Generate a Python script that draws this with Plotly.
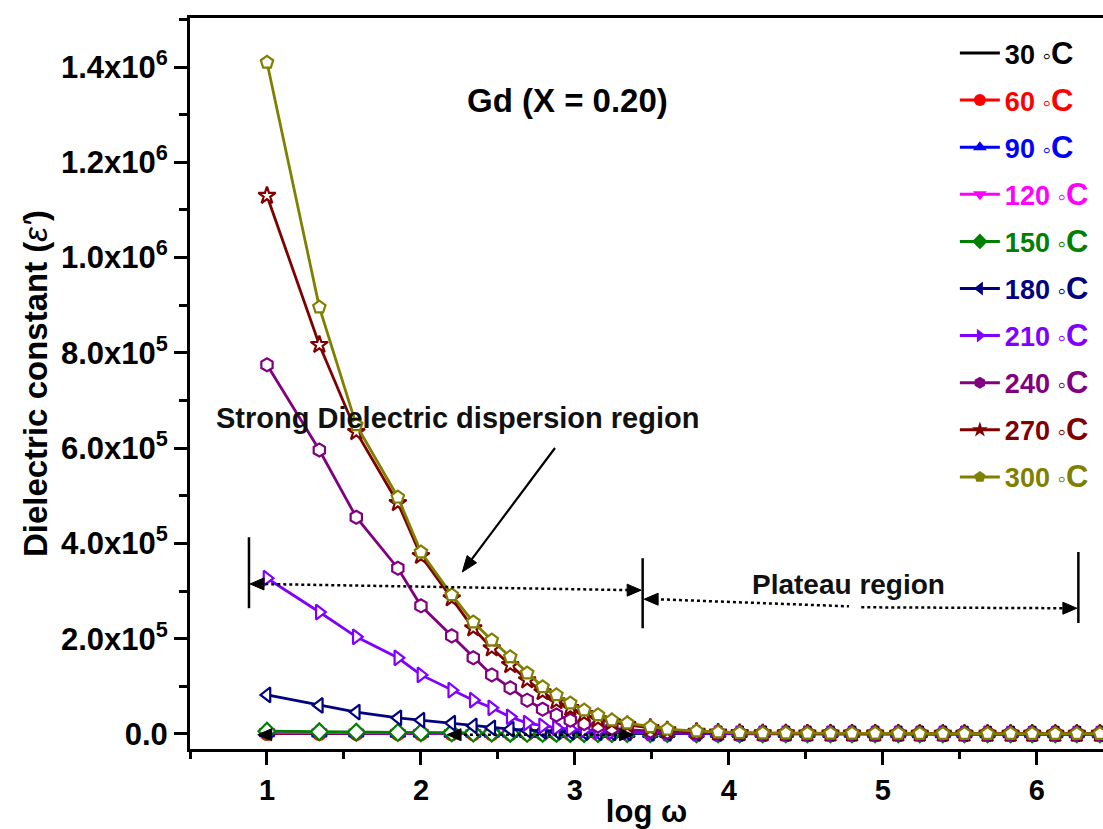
import plotly.graph_objects as go

# ---------------- data ----------------
logw = [1.00, 1.34, 1.58, 1.85, 2.00, 2.20, 2.34, 2.46, 2.58, 2.69,
        2.79, 2.88, 2.97, 3.06, 3.15, 3.24, 3.34, 3.49, 3.60, 3.79,
        3.93, 4.07, 4.22, 4.37, 4.51, 4.66, 4.80, 4.95, 5.10, 5.24,
        5.39, 5.53, 5.68, 5.83, 5.97, 6.12, 6.26, 6.41]

s30 = [1000, 920, 870, 820, 790, 760, 730, 710, 690, 670, 650, 630, 615, 600, 585, 570, 555, 535, 520, 500,
       485, 470, 460, 450, 440, 430, 420, 410, 400, 390, 380, 370, 360, 350, 340, 330, 320, 310]
s60 = [1500, 1300, 1200, 1100, 1000, 950, 900, 860, 830, 800, 770, 740, 720, 700, 680, 660, 640, 610, 590, 560,
       540, 520, 505, 490, 475, 460, 450, 440, 430, 420, 410, 400, 390, 380, 370, 360, 350, 340]
s90 = [2200, 1800, 1600, 1400, 1300, 1200, 1100, 1050, 1000, 950, 900, 860, 830, 800, 770, 740, 710, 670, 640, 600,
       580, 560, 540, 520, 500, 485, 470, 455, 440, 430, 420, 410, 400, 390, 380, 370, 360, 350]
s120 = [3500, 2800, 2400, 2000, 1800, 1600, 1450, 1350, 1250, 1150, 1080, 1000, 950, 900, 860, 820, 780, 730, 700, 650,
        620, 590, 570, 550, 530, 510, 495, 480, 465, 450, 440, 430, 420, 410, 400, 390, 380, 370]
s150 = [6000, 4600, 3800, 3100, 2800, 2400, 2100, 1900, 1700, 1550, 1450, 1350, 1250, 1150, 1080, 1000, 950, 880, 830, 770,
        730, 690, 660, 630, 600, 580, 560, 540, 520, 505, 490, 475, 460, 450, 440, 430, 420, 410]
s180 = [82000, 60000, 46000, 34000, 29000, 23000, 17000, 13000, 10000, 8000, 6000, 5000, 4000, 3200, 2600, 2200, 1900, 1500, 1300, 1100,
        950, 850, 780, 720, 670, 630, 600, 570, 550, 530, 510, 490, 475, 460, 450, 440, 430, 420]
s210 = [327000, 256000, 204000, 160000, 124000, 92000, 71000, 55000, 36000, 23000, 17000, 13000, 10000, 8000, 6000, 4500, 3500, 2500, 2000, 1500,
        1200, 1000, 900, 820, 760, 710, 670, 640, 610, 580, 560, 540, 520, 500, 490, 480, 470, 460]
s240 = [775000, 596000, 455000, 348000, 269000, 206000, 160000, 124000, 97000, 71000, 52000, 40000, 29000, 22000, 17000, 12000, 9000, 6000, 4000, 2500,
        1800, 1400, 1200, 1050, 950, 880, 820, 770, 730, 700, 670, 640, 610, 590, 570, 550, 530, 510]
s270 = [1130000, 817000, 634000, 485000, 374000, 285000, 222000, 180000, 145000, 113000, 88000, 69000, 55000, 42000, 31000, 25000, 19000, 13000, 8000, 5000,
        3200, 2300, 1800, 1500, 1300, 1200, 1100, 1000, 950, 900, 850, 800, 760, 720, 690, 660, 630, 600]
s300 = [1410000, 896000, 649000, 497000, 382000, 292000, 235000, 197000, 162000, 128000, 99000, 82000, 65000, 50000, 40000, 29000, 23000, 15000, 10000, 6000,
        4000, 2600, 2000, 1700, 1500, 1400, 1300, 1200, 1100, 1000, 950, 900, 850, 800, 760, 720, 690, 660]

temps = ["30", "60", "90", "120", "150", "180", "210", "240", "270", "300"]
series = [s30, s60, s90, s120, s150, s180, s210, s240, s270, s300]
colors = ["#000000", "#FF0000", "#0000FF", "#FF00FF", "#008000",
          "#000080", "#8000FF", "#800080", "#800000", "#808000"]
symbols = [None, "circle", "triangle-up", "triangle-down", "diamond",
           "triangle-left", "triangle-right", "hexagon", "star", "pentagon"]

ytick_vals = [0, 2e5, 4e5, 6e5, 8e5, 1e6, 1.2e6, 1.4e6]
ytick_text = ["0.0", "2.0x10<sup>5</sup>", "4.0x10<sup>5</sup>", "6.0x10<sup>5</sup>",
              "8.0x10<sup>5</sup>", "1.0x10<sup>6</sup>", "1.2x10<sup>6</sup>", "1.4x10<sup>6</sup>"]
xtick_vals = [1, 2, 3, 4, 5, 6]

FONT = "Liberation Sans, Arial, sans-serif"

fig = go.Figure()

# data traces (white-filled markers like the original)
for t, s, c, sym in zip(temps, series, colors, symbols):
    if sym is None:
        fig.add_trace(go.Scatter(x=logw, y=s, mode="lines",
                                 line=dict(color=c, width=2.8), showlegend=False))
    else:
        fig.add_trace(go.Scatter(x=logw, y=s, mode="lines+markers",
                                 line=dict(color=c, width=2.8),
                                 marker=dict(symbol=sym, size=13, color="white",
                                             line=dict(color=c, width=2.2)),
                                 showlegend=False))

# legend entries (filled markers as in the original legend)
for i, (t, c, sym) in enumerate(zip(temps, colors, symbols)):
    name = (f"<span style='color:{c}'>{t} <span style='font-size:24px'>◦</span>"
            f"<span style='font-size:31px'>C</span></span>")
    if sym is None:
        fig.add_trace(go.Scatter(x=[None], y=[None], mode="lines", name=name,
                                 line=dict(color=c, width=3), legendgroup=t))
    else:
        fig.add_trace(go.Scatter(x=[None], y=[None], mode="lines+markers", name=name,
                                 line=dict(color=c, width=3),
                                 marker=dict(symbol=sym, size=12, color=c),
                                 legendgroup=t))

# ---------------- decorations (region markers) ----------------
shapes = []
annotations = []
blk = "black"
PX = 1 / 154.5      # one pixel along x, in log ω units (for arrowhead size)
PY = 2099.0         # one pixel along y, in ε' units


def head(xt, yt, direction, L=14, W=6):
    """filled horizontal arrowhead with its tip at (xt, yt)"""
    xb = xt - direction * L * PX
    return dict(type="path", xref="x", yref="y",
                path=f"M {xt},{yt} L {xb},{yt + W * PY} L {xb},{yt - W * PY} Z",
                fillcolor=blk, line=dict(color=blk, width=1))


# vertical bars
for xv, y0, y1 in [(0.883, 2.64e5, 4.13e5), (3.44, 2.22e5, 3.69e5), (6.27, 2.33e5, 3.82e5)]:
    shapes.append(dict(type="line", x0=xv, x1=xv, y0=y0, y1=y1, xref="x", yref="y",
                       line=dict(color=blk, width=2.5)))
# dotted lines
for x0, y0, x1, y1 in [(0.95, 3.15e5, 3.36, 3.02e5), (3.52, 2.83e5, 4.78, 2.68e5),
                       (4.86, 2.66e5, 6.18, 2.64e5), (2.24, -1500, 3.30, -1500)]:
    shapes.append(dict(type="line", x0=x0, x1=x1, y0=y0, y1=y1, xref="x", yref="y",
                       line=dict(color=blk, width=2.5, dash="dot")))
# arrowheads
for xh, yh, d in [(0.89, 3.15e5, -1), (3.43, 3.02e5, 1), (3.45, 2.83e5, -1),
                  (6.26, 2.64e5, 1), (2.17, -1500, -1), (3.38, -1500, 1), (0.94, -1500, -1)]:
    shapes.append(head(xh, yh, d))
# long pointer arrow (line + head)
shapes.append(dict(type="line", xref="x", yref="y", x0=2.8706, y0=600314,
                   x1=2.3307, y1=366905, line=dict(color=blk, width=2.2)))
shapes.append(dict(type="path", xref="x", yref="y",
                   path="M 2.2686,340038 L 2.3618,359349 L 2.2997,374461 Z",
                   fillcolor=blk, line=dict(color=blk, width=1)))

# texts
annotations.append(dict(x=2.95, y=1.33e6, xref="x", yref="y", text="<b>Gd (X = 0.20)</b>",
                        showarrow=False, font=dict(family=FONT, size=33, color=blk)))
annotations.append(dict(x=2.236, y=6.63e5, xref="x", yref="y",
                        text="<b>Strong Dielectric dispersion region</b>",
                        showarrow=False, font=dict(family=FONT, size=29, color="#111")))
annotations.append(dict(x=4.78, y=3.13e5, xref="x", yref="y", text="<b>Plateau region</b>",
                        showarrow=False, font=dict(family=FONT, size=28, color="#111")))

fig.update_layout(
    width=1103, height=829,
    margin=dict(l=190, r=0, t=18, b=80),
    paper_bgcolor="white", plot_bgcolor="white",
    font=dict(family=FONT, color="black"),
    shapes=shapes, annotations=annotations,
    legend=dict(x=0.99, xanchor="right", y=0.985, yanchor="top",
                font=dict(family=FONT, size=27, weight="bold"),
                traceorder="grouped", tracegroupgap=9,
                bgcolor="rgba(255,255,255,0)", borderwidth=0, itemwidth=40),
    xaxis=dict(range=[0.5, 6.43], showline=True, linewidth=3, linecolor="black",
               mirror=True, showgrid=False, zeroline=False,
               tickvals=xtick_vals, ticks="outside", ticklen=13, tickwidth=3,
               tickcolor="black",
               tickfont=dict(family=FONT, size=29, weight="bold"),
               minor=dict(dtick=0.5, tick0=0.5, ticks="outside", ticklen=7,
                          tickwidth=3, tickcolor="black"),
               title=dict(text="<b>log ω</b>", font=dict(family=FONT, size=31),
                          standoff=0)),
    yaxis=dict(range=[-31500, 1.503e6], showline=True, linewidth=3, linecolor="black",
               mirror=False, showgrid=False, zeroline=False,
               tickvals=ytick_vals, ticktext=ytick_text, ticks="outside",
               ticklen=13, tickwidth=3, tickcolor="black",
               tickfont=dict(family=FONT, size=31, weight="bold"),
               minor=dict(dtick=1e5, tick0=0, ticks="outside", ticklen=8,
                          tickwidth=3, tickcolor="black"),
               title=dict(text="<b>Dielectric constant (</b><i>ε'</i><b>)</b>",
                          font=dict(family=FONT, size=33), standoff=4)),
)

fig.write_html("out.html")
